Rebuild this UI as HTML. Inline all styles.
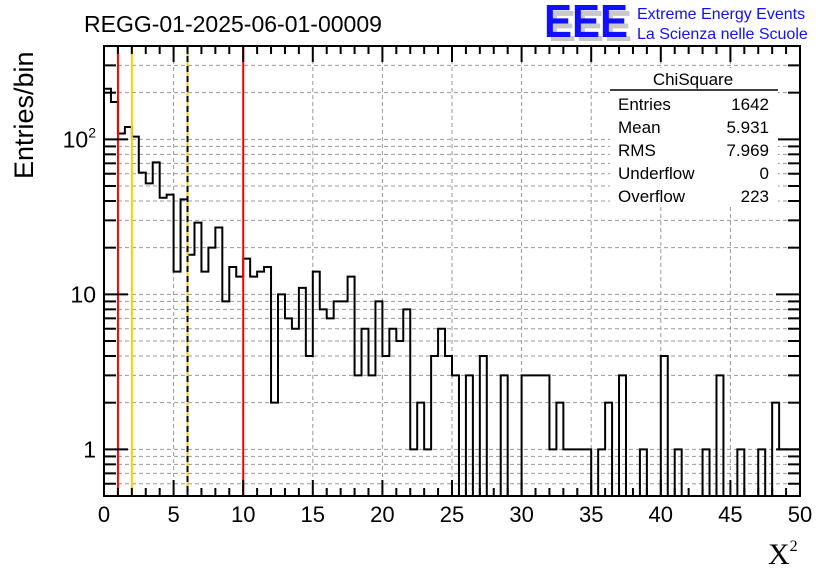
<!DOCTYPE html>
<html><head><meta charset="utf-8"><style>
body{margin:0;background:#fff;}
svg{display:block;font-family:"Liberation Sans",sans-serif;}
</style></head><body>
<svg id="c" width="836" height="572">
<rect width="836" height="572" fill="#fff"/>
<text x="84" y="32" font-size="23">REGG-01-2025-06-01-00009</text>
<g>
<text x="548" y="41" font-size="44" font-weight="bold" fill="#c8c8c8" textLength="84" lengthAdjust="spacingAndGlyphs">EEE</text>
<text x="544" y="37" font-size="46" font-weight="bold" fill="#1010ff" textLength="84" lengthAdjust="spacingAndGlyphs">EEE</text>
<text x="637" y="19" font-size="16" fill="#1010ff">Extreme Energy Events</text>
<text x="637" y="39" font-size="16" fill="#1010ff">La Scienza nelle Scuole</text>
</g>
<g id="grid"></g>
<g id="marks"></g>
<g id="axes"></g>
<text x="33" y="179" font-size="27" transform="rotate(-90 33 179)">Entries/bin</text>
<text x="768" y="564" font-size="30" font-family="Liberation Serif,serif">X<tspan font-size="16" dy="-13">2</tspan></text>
<g id="stats">
<rect x="610" y="68" width="168" height="138" fill="#fff"/>
<line x1="610" y1="90" x2="778" y2="90" stroke="#000" stroke-width="1.5"/>
<text x="693" y="85" font-size="17" text-anchor="middle">ChiSquare</text>
<g font-size="17">
<text x="618" y="110">Entries</text><text x="769" y="110" text-anchor="end">1642</text>
<text x="618" y="133">Mean</text><text x="769" y="133" text-anchor="end">5.931</text>
<text x="618" y="156">RMS</text><text x="769" y="156" text-anchor="end">7.969</text>
<text x="618" y="179">Underflow</text><text x="769" y="179" text-anchor="end">0</text>
<text x="618" y="202">Overflow</text><text x="769" y="202" text-anchor="end">223</text>
</g></g>
</svg>
<script>
const binCounts=[212,174,109,120,104,61,52,71,42,44,14,41,18,29,14,20,27,9,15,13,17,13,14,15,2,10,7,6,11,4,14,8,7,9,9,13,3,6,3,9,4,6,5,8,1,2,1,4,6,4,3,0,3,0,4,0,0,3,0,0,3,3,3,3,1,2,1,1,1,1,0,1,2,0,3,0,0,1,0,0,4,0,1,0,0,0,1,0,3,0,0,1,0,0,1,0,2,1,1,1];
const binWidth=0.5;
const xTicks=[0,5,10,15,20,25,30,35,40,45,50];
const cutLines=[{v:1,c:"#ff0000"},{v:10,c:"#ff0000"},{v:2,c:"#ffcc00"},{v:6,c:"#ffcc00"}];
const X0=104,X1=800,Y0=496,Y1=46,xmin=0,xmax=50,ymin=0.5,ymax=400;
const NS="http://www.w3.org/2000/svg";
const xs=v=>X0+(v-xmin)/(xmax-xmin)*(X1-X0);
const ys=v=>Y0-(Math.log10(v)-Math.log10(ymin))/(Math.log10(ymax)-Math.log10(ymin))*(Y0-Y1);
function mk(p,t,a){const e=document.createElementNS(NS,t);for(const k in a)e.setAttribute(k,a[k]);p.appendChild(e);return e;}
const grid=document.getElementById('grid'),marks=document.getElementById('marks'),axes=document.getElementById('axes');
const yvals=[];for(let d=0.1;d<=100;d*=10){for(let m=1;m<10;m++){const v=+(m*d).toPrecision(3);if(v>=ymin&&v<=ymax)yvals.push(v);}}
yvals.forEach(v=>{const y=ys(v);
 const g=mk(grid,'line',{x1:X0,x2:X1,y1:y,y2:y,stroke:'#999','stroke-dasharray':'4,3','stroke-width':1});
 
 const major=[1,10,100].includes(v);const L=major?24:12;
 mk(axes,'line',{x1:X0,x2:X0+L,y1:y,y2:y,stroke:'#000','stroke-width':2});
 mk(axes,'line',{x1:X1,x2:X1-L,y1:y,y2:y,stroke:'#000','stroke-width':2});
});
xTicks.forEach(v=>{const x=xs(v);
 if(v>0&&v<50){const g=mk(grid,'line',{x1:x,x2:x,y1:Y1,y2:Y0,stroke:'#999','stroke-dasharray':'4,3','stroke-width':1});
 }
 const t=mk(axes,'text',{x:x,y:Y0+26,'font-size':22,'text-anchor':'middle'});t.textContent=v;
 
});
for(let v=0;v<=50;v++){const x=xs(v);const L=v%5==0?16:8;
 mk(axes,'line',{x1:x,x2:x,y1:Y0,y2:Y0-L,stroke:'#000','stroke-width':2});
 mk(axes,'line',{x1:x,x2:x,y1:Y1,y2:Y1+L,stroke:'#000','stroke-width':2});}
[[1,'1'],[10,'10'],[100,'10']].forEach(([v,s],i)=>{const t=mk(axes,'text',{x:X0-8,y:ys(v)+8,'font-size':23,'text-anchor':'end'});
 t.textContent=s;if(i==2){const sp=mk(t,'tspan',{'font-size':14,dy:-10});sp.textContent='2';}
 });
let d='';
binCounts.forEach((c,i)=>{const xa=xs(i*binWidth),xb=xs((i+1)*binWidth);const y=c>0?Math.min(ys(c),Y0):Y0;
 d+=(i==0?'M':'L')+xa+','+y+'L'+xb+','+y;});
const h=mk(marks,'path',{d:d,fill:'none',stroke:'#000','stroke-width':2});

cutLines.forEach(l=>{const x=xs(l.v);const e=mk(marks,'line',{x1:x,x2:x,y1:Y1,y2:Y0,stroke:l.c,'stroke-width':2});
 });
const dl=mk(marks,'line',{x1:xs(6),x2:xs(6),y1:Y1,y2:Y0,stroke:'#000','stroke-width':2,'stroke-dasharray':'6,4'});

const fr=mk(axes,'rect',{x:X0,y:Y1,width:X1-X0,height:Y0-Y1,fill:'none',stroke:'#000','stroke-width':2});

document.getElementById('c').appendChild(document.getElementById('stats'));
</script>
</body></html>
